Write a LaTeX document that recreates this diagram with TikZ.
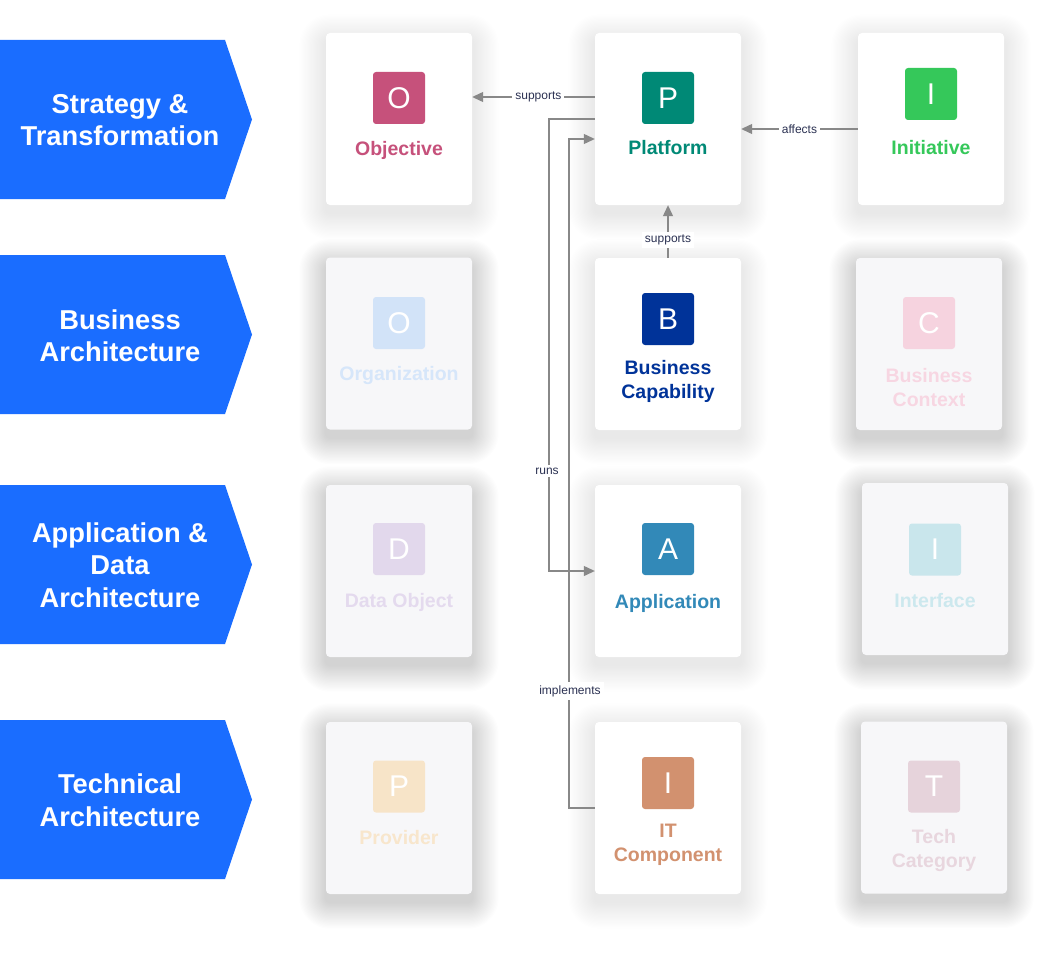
\documentclass[tikz,border=0pt]{standalone}
\usepackage{fontspec}
\setmainfont{Liberation Sans}
\usetikzlibrary{arrows.meta,backgrounds}
\definecolor{bannerBlue}{RGB}{26,109,255}
\definecolor{cObj}{RGB}{198,81,123}
\definecolor{cPlat}{RGB}{0,137,118}
\definecolor{cInit}{RGB}{53,200,90}
\definecolor{cBcap}{RGB}{0,51,153}
\definecolor{cApp}{RGB}{50,137,184}
\definecolor{cItc}{RGB}{210,145,111}
\definecolor{fOrgI}{RGB}{210,227,248}
\definecolor{fOrgT}{RGB}{214,230,250}
\definecolor{fCtxI}{RGB}{246,211,223}
\definecolor{fCtxT}{RGB}{247,214,226}
\definecolor{fDobI}{RGB}{226,216,236}
\definecolor{fDobT}{RGB}{228,218,238}
\definecolor{fIntI}{RGB}{201,230,236}
\definecolor{fIntT}{RGB}{204,232,238}
\definecolor{fProI}{RGB}{247,228,200}
\definecolor{fProT}{RGB}{248,230,204}
\definecolor{fTecI}{RGB}{230,211,219}
\definecolor{fTecT}{RGB}{232,214,222}
\definecolor{fadeBg}{RGB}{247,247,249}
\definecolor{shadowCol}{RGB}{40,45,70}
\definecolor{lineGray}{RGB}{136,136,136}
\definecolor{lblText}{RGB}{43,49,82}
\newcommand{\cshadow}[2]{%
  \foreach \k in {1,...,22}{%
    \pgfmathsetmacro\rr{4+1.2*\k}%
    \pgfmathsetmacro\dd{1.2*\k}%
    \fill[shadowCol, opacity=#2, rounded corners=\rr pt]
      ([shift={(-\dd,-\dd+8)}]#1.north west) rectangle ([shift={(\dd,\dd+8)}]#1.south east);
  }}
\begin{document}
\begin{tikzpicture}[x=1pt,y=-1pt,
  card/.style={rectangle, rounded corners=4pt, fill=white, minimum width=146pt, minimum height=172pt, inner sep=0pt},
  fcard/.style={card, fill=fadeBg},
  icon/.style={rectangle, rounded corners=3pt, minimum size=52pt, inner sep=0pt, text=white, font=\fontsize{30}{30}\selectfont},
  lab/.style={anchor=base, font=\bfseries\fontsize{19.5}{24}\selectfont, align=center, inner sep=0pt},
  labtwo/.style={font=\bfseries\fontsize{19.5}{24}\selectfont, align=center, inner sep=0pt},
  banner/.style={fill=bannerBlue},
  btext/.style={text=white, font=\bfseries\fontsize{27.3}{32.5}\selectfont, align=center, inner sep=0pt},
  conn/.style={draw=lineGray, line width=1.2pt, -{Triangle[length=11pt,width=10pt]}},
  lbl/.style={fill=white, text=lblText, font=\fontsize{12}{13}\selectfont, inner sep=3pt}
]
\useasboundingbox (0,0) rectangle (1056,960);

% banners
\fill[banner] (0,40) -- (225,40) -- (252,119.5) -- (225,199) -- (0,199) -- cycle;
\node[btext] (b1) at (120,120) {Strategy \&\\Transformation};
\fill[banner] (0,255) -- (225,255) -- (252,334.5) -- (225,414) -- (0,414) -- cycle;
\node[btext] (b2) at (120,335.5) {Business\\Architecture};
\fill[banner] (0,485) -- (225,485) -- (252,564.5) -- (225,644) -- (0,644) -- cycle;
\node[btext] (b3) at (120,565) {Application \&\\Data\\Architecture};
\fill[banner] (0,720) -- (225,720) -- (252,799.5) -- (225,879) -- (0,879) -- cycle;
\node[btext] (b4) at (120,800) {Technical\\Architecture};

% cards row 1
\node[card] (obj) at (399,119) {};
\node[icon, fill=cObj] (objI) at (399,98) {O};
\node[lab, text=cObj] (objL) at (399,156) {Objective};
\node[card] (plat) at (668,119) {};
\node[icon, fill=cPlat] (platI) at (668,98) {P};
\node[lab, text=cPlat] (platL) at (668,154) {Platform};
\node[card] (init) at (931,119) {};
\node[icon, fill=cInit] (initI) at (931,94) {I};
\node[lab, text=cInit] (initL) at (931,155) {Initiative};

% row 2
\node[fcard] (org) at (399,343.5) {};
\node[icon, fill=fOrgI] (orgI) at (399,323) {O};
\node[lab, text=fOrgT] (orgL) at (399,380) {Organization};
\node[card] (bcap) at (668,344) {};
\node[icon, fill=cBcap] (bcapI) at (668,319) {B};
\node[labtwo, text=cBcap] (bcapL) at (668,381) {Business\\Capability};
\node[fcard] (bctx) at (929,344) {};
\node[icon, fill=fCtxI] (bctxI) at (929,323) {C};
\node[labtwo, text=fCtxT] (bctxL) at (929,387.5) {Business\\Context};

% row 3
\node[fcard] (dobj) at (399,571) {};
\node[icon, fill=fDobI] (dobjI) at (399,549) {D};
\node[lab, text=fDobT] (dobjL) at (399,607) {Data Object};
\node[card] (app) at (668,571) {};
\node[icon, fill=cApp] (appI) at (668,549) {A};
\node[lab, text=cApp] (appL) at (668,608) {Application};
\node[fcard] (intf) at (935,569) {};
\node[icon, fill=fIntI] (intfI) at (935,549.5) {I};
\node[lab, text=fIntT] (intfL) at (935,607) {Interface};

% row 4
\node[fcard] (prov) at (399,808) {};
\node[icon, fill=fProI] (provI) at (399,786.5) {P};
\node[lab, text=fProT] (provL) at (399,844) {Provider};
\node[card] (itc) at (668,808) {};
\node[icon, fill=cItc] (itcI) at (668,783) {I};
\node[labtwo, text=cItc] (itcL) at (668,844.5) {IT\\Component};
\node[fcard] (tcat) at (934,807.5) {};
\node[icon, fill=fTecI] (tcatI) at (934,786.5) {T};
\node[labtwo, text=fTecT] (tcatL) at (934,850.5) {Tech\\Category};

% shadows and page background
\begin{scope}[on background layer]
  \fill[white] (0,0) rectangle (1056,960);
  \foreach \c in {obj,plat,init,bcap,app,itc} {\cshadow{\c}{0.0048}}
  \foreach \c in {org,bctx,dobj,intf,prov,tcat} {\cshadow{\c}{0.0065}}
\end{scope}

% connectors
\coordinate (runX) at (549,0);
\coordinate (implX) at (569,0);
\coordinate (pin) at ([yshift=-20pt]plat.west);
\coordinate (sup) at ([yshift=22pt]plat.west);
\coordinate (aff) at ([yshift=-10pt]init.west);

\draw[conn] (sup) -- node[lbl, pos=0.46] (supL) {supports} (obj.east |- sup);
\draw[conn] (aff) -- node[lbl, pos=0.5] (affL) {affects} (plat.east |- aff);
\draw[conn] (bcap.north) -- node[lbl, pos=0.34] (sup2L) {supports} (plat.south);
\draw[conn] (plat.west) -- (plat.west -| runX) -- (runX |- app.west) -- (app.west);
\draw[conn] (itc.west) -- (itc.west -| implX) -- (implX |- pin) -- (pin);
\node[lbl] (runsL) at (547,471) {runs};
\node[lbl] (implL) at (570,691) {implements};
\end{tikzpicture}
\end{document}
